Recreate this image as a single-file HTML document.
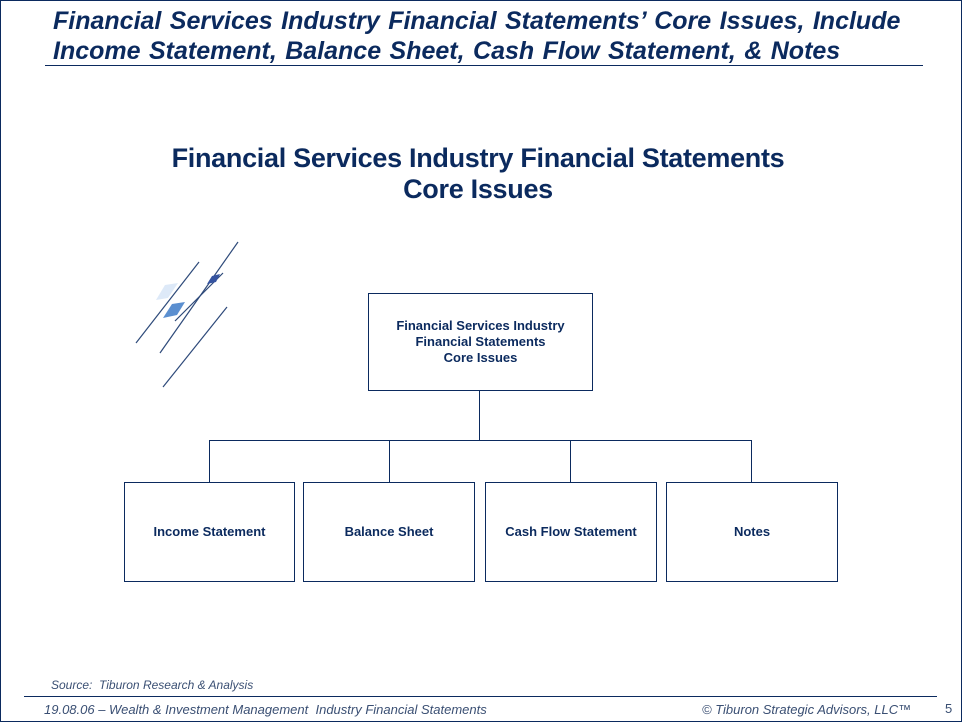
<!DOCTYPE html>
<html><head><meta charset="utf-8"><style>
body{margin:0;width:962px;height:722px;position:relative;background:#fff;font-family:"Liberation Sans",Arial,sans-serif;overflow:hidden}
.frame{position:absolute;left:0;top:0;width:960px;height:720px;border:1px solid #0b2a5e}
.t{position:absolute;color:#0b2a5e;font-style:italic;font-weight:bold;font-size:25px;left:53px;word-spacing:1.5px;white-space:nowrap}
.box{position:absolute;border:1px solid #0b2a5e;box-sizing:border-box;display:flex;align-items:center;justify-content:center;text-align:center;color:#0b2a5e;font-weight:bold;font-size:13px;line-height:16px}
.ft{position:absolute;color:#3a4f73;font-style:italic;font-size:13px;white-space:nowrap}
</style></head><body>
<div class="frame"></div>
<div class="t" style="top:7px">Financial Services Industry Financial Statements’ Core Issues, Include</div>
<div class="t" style="top:37px">Income Statement, Balance Sheet, Cash Flow Statement, &amp; Notes</div>
<div style="position:absolute;left:45px;top:65px;width:878px;height:1px;background:#0b2a5e"></div>
<div style="position:absolute;left:0;width:956px;top:143px;text-align:center;color:#0b2a5e;font-weight:bold;font-size:27px;line-height:31px;letter-spacing:-0.3px">Financial Services Industry Financial Statements<br>Core Issues</div>
<svg style="position:absolute;left:0;top:0" width="962" height="722">
<g stroke="#2e4a7a" stroke-width="1.2">
<line x1="136" y1="343" x2="199" y2="262"/>
<line x1="160" y1="353" x2="238" y2="242"/>
<line x1="175" y1="321" x2="223" y2="273"/>
<line x1="163" y1="387" x2="227" y2="307"/>
</g>
<polygon points="156,300 165,285 178,283 168,298" fill="#dde9f8"/>
<polygon points="163,318 172,304 185,302 177,315" fill="#5b8fd0"/>
<polygon points="207,284 212,276 220,274 216,282" fill="#3553a0"/>
<g stroke="#0b2a5e" stroke-width="1" fill="none">
<path d="M479.5 390V440.5M209.5 482V440.5H751.5V482M389.5 440.5V482M570.5 440.5V482"/>
</g>
</svg>
<div class="box" style="left:368px;top:293px;width:225px;height:98px">Financial Services Industry<br>Financial Statements<br>Core Issues</div>
<div class="box" style="left:124px;top:482px;width:171px;height:100px">Income Statement</div>
<div class="box" style="left:303px;top:482px;width:172px;height:100px">Balance Sheet</div>
<div class="box" style="left:485px;top:482px;width:172px;height:100px">Cash Flow Statement</div>
<div class="box" style="left:666px;top:482px;width:172px;height:100px">Notes</div>
<div class="ft" style="left:51px;top:678px;font-size:12px">Source:&nbsp; Tiburon Research &amp; Analysis</div>
<div style="position:absolute;left:24px;top:696px;width:913px;height:1px;background:#0b2a5e"></div>
<div class="ft" style="left:44px;top:702px">19.08.06 – Wealth &amp; Investment Management&nbsp; Industry Financial Statements</div>
<div class="ft" style="left:702px;top:702px">© Tiburon Strategic Advisors, LLC™</div>
<div class="ft" style="left:945px;top:701px;font-style:normal">5</div>
</body></html>
